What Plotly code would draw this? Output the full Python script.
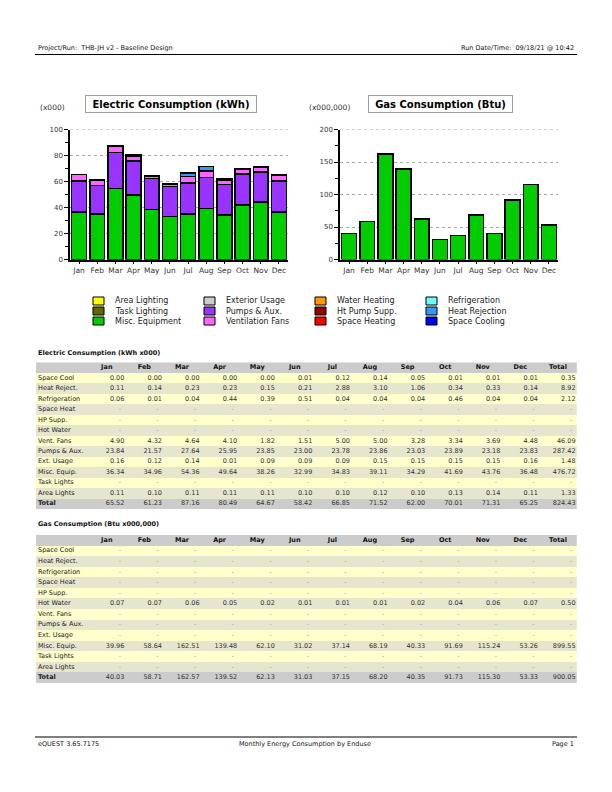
import plotly.graph_objects as go

W, H = 612, 792
FONT = "DejaVu Sans"

MONTHS = ["Jan", "Feb", "Mar", "Apr", "May", "Jun", "Jul", "Aug", "Sep", "Oct", "Nov", "Dec"]

# ---------------- Electric consumption (kWh x000) ----------------
E_SPACE_COOL = [0.00, 0.00, 0.00, 0.00, 0.00, 0.01, 0.12, 0.14, 0.05, 0.01, 0.01, 0.01]
E_HEAT_REJECT = [0.11, 0.14, 0.23, 0.23, 0.15, 0.21, 2.88, 3.10, 1.06, 0.34, 0.33, 0.14]
E_REFRIG = [0.06, 0.01, 0.04, 0.44, 0.39, 0.51, 0.04, 0.04, 0.04, 0.46, 0.04, 0.04]
E_SPACE_HEAT = [None] * 12
E_HP_SUPP = [None] * 12
E_HOT_WATER = [None] * 12
E_VENT_FANS = [4.90, 4.32, 4.64, 4.10, 1.82, 1.51, 5.00, 5.00, 3.28, 3.34, 3.69, 4.48]
E_PUMPS = [23.84, 21.57, 27.64, 25.95, 23.85, 23.00, 23.78, 23.86, 23.03, 23.89, 23.18, 23.83]
E_EXT_USAGE = [0.16, 0.12, 0.14, 0.01, 0.09, 0.09, 0.09, 0.15, 0.15, 0.15, 0.15, 0.16]
E_MISC_EQUIP = [36.34, 34.96, 54.36, 49.64, 38.26, 32.99, 34.83, 39.11, 34.29, 41.69, 43.76, 36.48]
E_TASK_LIGHTS = [None] * 12
E_AREA_LIGHTS = [0.11, 0.10, 0.11, 0.11, 0.11, 0.10, 0.10, 0.12, 0.10, 0.13, 0.14, 0.11]
E_TOTAL = [65.52, 61.23, 87.16, 80.49, 64.67, 58.42, 66.85, 71.52, 62.00, 70.01, 71.31, 65.25]
E_ROW_TOTALS = [0.35, 8.92, 2.12, None, None, None, 46.09, 287.42, 1.48, 476.72, None, 1.33, 824.43]

# ---------------- Gas consumption (Btu x000,000) ----------------
G_HOT_WATER = [0.07, 0.07, 0.06, 0.05, 0.02, 0.01, 0.01, 0.01, 0.02, 0.04, 0.06, 0.07]
G_MISC_EQUIP = [39.96, 58.64, 162.51, 139.48, 62.10, 31.02, 37.14, 68.19, 40.33, 91.69, 115.24, 53.26]
G_TOTAL = [40.03, 58.71, 162.57, 139.52, 62.13, 31.03, 37.15, 68.20, 40.35, 91.73, 115.30, 53.33]
G_ROW_TOTALS = [None, None, None, None, None, 0.50, None, None, None, 899.55, None, None, 900.05]
NONE12 = [None] * 12

# axis ranges / tick steps
E_YMAX, E_DTICK = 100, 20
G_YMAX, G_DTICK = 200, 50

# legend / stacking order (bottom -> top), colours
ENDUSE_NAMES = ["Area Lighting", "Task Lighting", "Misc. Equipment", "Exterior Usage",
                "Pumps & Aux.", "Ventilation Fans", "Water Heating", "Ht Pump Supp.",
                "Space Heating", "Refrigeration", "Heat Rejection", "Space Cooling"]
ENDUSE_COLORS = ["#FFFF00", "#666600", "#00CC00", "#CCCCCC",
                 "#9933FF", "#FF66FF", "#FF9900", "#990000",
                 "#FF0000", "#66FFFF", "#3399FF", "#0000FF"]
ELEC_STACK = [E_AREA_LIGHTS, E_TASK_LIGHTS, E_MISC_EQUIP, E_EXT_USAGE,
              E_PUMPS, E_VENT_FANS, E_HOT_WATER, E_HP_SUPP,
              E_SPACE_HEAT, E_REFRIG, E_HEAT_REJECT, E_SPACE_COOL]
GAS_STACK = [NONE12, NONE12, G_MISC_EQUIP, NONE12,
             NONE12, NONE12, G_HOT_WATER, NONE12,
             NONE12, NONE12, NONE12, NONE12]

# table rows
ROW_LABELS = ["Space Cool", "Heat Reject.", "Refrigeration", "Space Heat", "HP Supp.",
              "Hot Water", "Vent. Fans", "Pumps & Aux.", "Ext. Usage", "Misc. Equip.",
              "Task Lights", "Area Lights", "Total"]
ELEC_ROWS = [E_SPACE_COOL, E_HEAT_REJECT, E_REFRIG, E_SPACE_HEAT, E_HP_SUPP, E_HOT_WATER,
             E_VENT_FANS, E_PUMPS, E_EXT_USAGE, E_MISC_EQUIP, E_TASK_LIGHTS, E_AREA_LIGHTS, E_TOTAL]
GAS_ROWS = [NONE12, NONE12, NONE12, NONE12, NONE12, G_HOT_WATER,
            NONE12, NONE12, NONE12, G_MISC_EQUIP, NONE12, NONE12, G_TOTAL]
COL_HEADERS = MONTHS + ["Total"]


def px(x):
    return x / W


def py(y):
    return 1 - y / H


fig = go.Figure()

# ---------------- bar charts ----------------
for name, color, ev, gv in zip(ENDUSE_NAMES, ENDUSE_COLORS, ELEC_STACK, GAS_STACK):
    fig.add_trace(go.Bar(x=MONTHS, y=ev, name=name, marker=dict(color=color, line=dict(color="black", width=1.5)),
                         showlegend=False, hoverinfo="skip", xaxis="x", yaxis="y"))
    fig.add_trace(go.Bar(x=MONTHS, y=gv, name=name, marker=dict(color=color, line=dict(color="black", width=1.5)),
                         showlegend=False, hoverinfo="skip", xaxis="x2", yaxis="y2"))

CH_TOP, CH_BOT = 129.5, 259.5
tickfont = dict(family=FONT, size=7.5, color="#333333")
GRID_COLOR = "#A8A8A8"


def xax(domain, anchor):
    return dict(domain=domain, anchor=anchor, type="category", showline=True, linecolor="black",
                linewidth=1.5, ticks="outside", ticklen=3, tickcolor="black", tickfont=tickfont,
                showgrid=False, zeroline=False, fixedrange=True, automargin=False)


def yax(domain, anchor, rng, dtick):
    return dict(domain=domain, anchor=anchor, range=rng, dtick=dtick, showline=True, linecolor="black",
                linewidth=1.5, ticks="outside", ticklen=4, tickcolor="black",
                tickfont=dict(family=FONT, size=7, color="#333333"),
                showgrid=True, gridcolor=GRID_COLOR, griddash="3px,3px", gridwidth=1, zeroline=False,
                minor=dict(dtick=dtick / 2, ticks="outside", ticklen=3, tickcolor="black", showgrid=False),
                fixedrange=True, automargin=False)


ydom = [py(CH_BOT), py(CH_TOP)]
fig.update_layout(
    xaxis=xax([px(70), px(288)], "y"),
    yaxis=yax(ydom, "x", [0, E_YMAX], E_DTICK),
    xaxis2=xax([px(340), px(558)], "y2"),
    yaxis2=yax(ydom, "x2", [0, G_YMAX], G_DTICK),
)

# ---------------- tables (heatmap fills + text) ----------------
LABEL_W, COL_W = 52.0, 37.6
TABLE_W = LABEL_W + COL_W * 13
ROW_COLORSCALE = [[0, "#CCCCCC"], [0.3333, "#CCCCCC"], [0.3333, "#FFFFCC"], [0.6667, "#FFFFCC"],
                  [0.6667, "#E6E6CE"], [1, "#E6E6CE"]]


def add_table(rows, row_totals, xa, ya, top, bottom):
    n = len(ROW_LABELS) + 1
    codes = [[0]] + [[1 if i % 2 == 0 else 2] for i in range(len(ROW_LABELS) - 1)] + [[0]]
    fig.add_trace(go.Heatmap(z=codes, x=[0, TABLE_W], y=[i - 0.5 for i in range(n + 1)],
                             colorscale=ROW_COLORSCALE, zmin=0, zmax=2, showscale=False,
                             hoverinfo="skip", xaxis=xa, yaxis=ya))
    # header
    hx = [LABEL_W + COL_W * (j + 0.5) for j in range(13)]
    fig.add_trace(go.Scatter(x=hx, y=[0] * 13, mode="text", text=["<b>%s</b>" % h for h in COL_HEADERS],
                             textposition="middle center",
                             textfont=dict(family=FONT, size=6.5, color="#111111"),
                             hoverinfo="skip", showlegend=False, cliponaxis=False, xaxis=xa, yaxis=ya))
    # row labels
    lab = [("<b>%s</b>" % r) if r == "Total" else r for r in ROW_LABELS]
    fig.add_trace(go.Scatter(x=[2.0] * len(ROW_LABELS), y=list(range(1, len(ROW_LABELS) + 1)), mode="text",
                             text=lab, textposition="middle right",
                             textfont=dict(family=FONT, size=6.5, color="#222222"),
                             hoverinfo="skip", showlegend=False, cliponaxis=False, xaxis=xa, yaxis=ya))
    # values
    vx, vy, vt, dx, dy = [], [], [], [], []
    for i, (vals, tot) in enumerate(zip(rows, row_totals)):
        for j, v in enumerate(list(vals) + [tot]):
            edge = LABEL_W + COL_W * (j + 1)
            if v is None:
                dx.append(edge - 4.5)
                dy.append(i + 1)
            else:
                vx.append(edge - 1.2)
                vy.append(i + 1)
                vt.append("%.2f" % v)
    fig.add_trace(go.Scatter(x=vx, y=vy, mode="text", text=vt, textposition="middle left",
                             textfont=dict(family=FONT, size=6.5, color="#333333"),
                             hoverinfo="skip", showlegend=False, cliponaxis=False, xaxis=xa, yaxis=ya))
    fig.add_trace(go.Scatter(x=dx, y=dy, mode="text", text=["-"] * len(dx), textposition="middle left",
                             textfont=dict(family=FONT, size=6.5, color="#999999"),
                             hoverinfo="skip", showlegend=False, cliponaxis=False, xaxis=xa, yaxis=ya))
    hid = dict(visible=False, fixedrange=True)
    fig.layout[xa.replace("x", "xaxis")] = dict(domain=[px(36), px(36 + TABLE_W)], range=[0, TABLE_W],
                                                 anchor=ya, **hid)
    fig.layout[ya.replace("y", "yaxis")] = dict(domain=[py(bottom), py(top)], range=[n - 0.5, -0.5],
                                                 anchor=xa, **hid)


add_table(ELEC_ROWS, E_ROW_TOTALS, "x3", "y3", 362.3, 509.0)
add_table(GAS_ROWS, G_ROW_TOTALS, "x4", "y4", 535.0, 683.0)

# ---------------- annotations & shapes ----------------
ann = []
shapes = []

# top gridline at the range end (plotly clips gridlines at the axis ends)
for xr, yr, ymax in [("x domain", "y", E_YMAX), ("x2 domain", "y2", G_YMAX)]:
    shapes.append(dict(type="line", xref=xr, yref=yr, x0=0, x1=1, y0=ymax, y1=ymax, layer="below",
                       line=dict(color=GRID_COLOR, width=1, dash="3px,3px")))


def text(x, y, s, size=6.5, anchor="left", bold=False, color="#111111"):
    ann.append(dict(x=px(x), y=py(y), xref="paper", yref="paper", text=("<b>%s</b>" % s) if bold else s,
                    showarrow=False, xanchor=anchor, yanchor="middle",
                    font=dict(family=FONT, size=size, color=color)))


# page header / footer
text(36, 48.5, "Project/Run:  THB-JH v2 - Baseline Design", 6.5)
text(576, 48.5, "Run Date/Time:  09/18/21 @ 10:42", 6.5, anchor="right")
shapes.append(dict(type="line", xref="paper", yref="paper", x0=px(35), x1=px(577), y0=py(54.5), y1=py(54.5),
                   line=dict(color="black", width=1)))
shapes.append(dict(type="line", xref="paper", yref="paper", x0=px(35), x1=px(577), y0=py(737), y1=py(737),
                   line=dict(color="black", width=1)))
text(36, 743.5, "eQUEST 3.65.7175", 6.5)
text(305, 743.5, "Monthly Energy Consumption by Enduse", 6.5, anchor="center")
text(576, 743.5, "Page 1", 6.5, anchor="right")

# chart titles
for cx, w, s in [(171, 166, "Electric Consumption (kWh)"), (440.5, 139, "Gas Consumption (Btu)")]:
    ann.append(dict(x=px(cx), y=py(104), xref="paper", yref="paper", text="<b>%s</b>" % s, showarrow=False,
                    xanchor="center", yanchor="middle", width=w, height=12, bgcolor="white",
                    bordercolor="#A0A0A0", borderwidth=1, borderpad=2,
                    font=dict(family=FONT, size=10, color="black")))
text(38, 107, "(x000)", 7.5, color="#333333")
text(307, 107, "(x000,000)", 7.5, color="#333333")

# legend
for k, (name, color) in enumerate(zip(ENDUSE_NAMES, ENDUSE_COLORS)):
    col, row = k // 3, k % 3
    x0 = 93 + 111 * col
    yc = 301 + 10 * row
    shapes.append(dict(type="rect", xref="paper", yref="paper", x0=px(x0), x1=px(x0 + 11),
                       y0=py(yc + 4), y1=py(yc - 4), fillcolor=color, line=dict(color="black", width=1)))
    text(x0 + 20, yc, name, 8, color="#222222")

# table titles
text(36, 352.5, "Electric Consumption (kWh x000)", 6.5, bold=True)
text(36, 523.5, "Gas Consumption (Btu x000,000)", 6.5, bold=True)

fig.update_layout(
    width=W, height=H, margin=dict(l=0, r=0, t=0, b=0, pad=0),
    paper_bgcolor="white", plot_bgcolor="white",
    barmode="stack", bargap=0.19, showlegend=False, hovermode=False,
    annotations=ann, shapes=shapes,
)

fig.write_html("out.html", config={"displayModeBar": False},
               post_script="document.body.style.margin='0px';document.body.style.overflow='hidden';")
